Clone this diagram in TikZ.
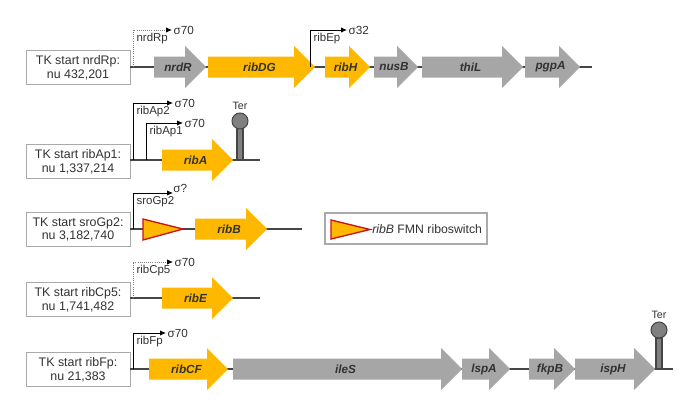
\documentclass[tikz,border=0pt]{standalone}
\usepackage{fontspec}
\setmainfont{Liberation Sans}
\usetikzlibrary{arrows.meta}
\usetikzlibrary{calc}

\definecolor{ribgold}{RGB}{255,184,0}
\definecolor{genegray}{RGB}{166,166,166}
\definecolor{boxgray}{RGB}{170,170,170}
\definecolor{linegray}{RGB}{70,70,70}
\definecolor{txtgray}{RGB}{50,50,50}
\definecolor{switchred}{RGB}{200,20,20}

% gene arrow: x start, x tip, y, fill, name
\newcommand{\gene}[5]{%
  \fill[#4] (#1,{#3-10.5}) -- ({#2-21},{#3-10.5}) -- ({#2-21},{#3-21})
    -- (#2,#3) -- ({#2-21},{#3+21}) -- ({#2-21},{#3+10.5}) -- (#1,{#3+10.5}) -- cycle;
  \node[genename] (gene-#5) at ({(#1+#2)/2-2},#3) {#5};}

\begin{document}
\begin{tikzpicture}[x=0.75pt,y=-0.75pt,
    tkbox/.style={draw=boxgray,fill=white,minimum width=78pt,minimum height=25.5pt,
      inner sep=0pt,align=center,text=txtgray,font=\fontsize{9.3}{10.2}\selectfont},
    genename/.style={text=txtgray,font=\fontsize{8.8}{9}\selectfont\bfseries\itshape},
    backbone/.style={draw=linegray,line width=0.8pt},
    prom/.style={draw=black,line width=0.6pt,-{Latex[length=4.5pt,width=4pt]}},
    promdot/.style={draw=gray,line width=0.6pt,densely dotted,-{Latex[length=4.5pt,width=4pt,color=black]}},
    sigma/.style={right,inner sep=1pt,text=txtgray,font=\fontsize{8.8}{9}\selectfont},
    promname/.style={anchor=north west,inner sep=1pt,text=txtgray,font=\fontsize{8.6}{9}\selectfont},
    stem/.style={fill=gray,draw=linegray,line width=0.8pt},
    hairpin/.style={fill=gray,draw=linegray,line width=0.8pt},
    riboswitch/.style={fill=ribgold,draw=switchred,line width=1pt,line join=miter}]
\useasboundingbox (0,0) rectangle (700,407);

% --- nrdRp
\node[tkbox] (boxR) at (78,67.5) {TK start nrdRp:\\nu 432,201};
\coordinate (endR) at (592,67);
\draw[backbone] (boxR.east |- endR) -- (endR);
\gene{154}{206}{67}{genegray}{nrdR}
\gene{208}{315}{67}{ribgold}{ribDG}
\gene{325}{370}{67}{ribgold}{ribH}
\gene{374}{418}{67}{genegray}{nusB}
\gene{422}{523}{67}{genegray}{thiL}
\gene{525}{580}{67}{genegray}{pgpA}
\draw[promdot] (133,67) |- (172,30) node[sigma] (sigR) {σ70};
\node[promname] (pR) at (135,32) {nrdRp};
\draw[prom] (310,67) |- (347,30) node[sigma] (sigE) {σ32};
\node[promname] (pE) at (312,32) {ribEp};

% --- ribAp1
\node[tkbox] (boxA) at (78,161.5) {TK start ribAp1:\\nu 1,337,214};
\coordinate (endA) at (260,160);
\draw[backbone] (boxA.east |- endA) -- (endA);
\gene{162}{233}{160}{ribgold}{ribA}
\draw[prom] (133,160) |- (173,103) node[sigma] (sigA2) {σ70};
\node[promname] (pA2) at (135,105) {ribAp2};
\draw[prom] (146,160) |- (183,123) node[sigma] (sigA1) {σ70};
\node[promname] (pA1) at (148,125) {ribAp1};
\draw[stem] (237,160) rectangle (243,128);
\draw[hairpin] (240,121) circle (8);
\node[text=txtgray,font=\fontsize{8}{9}\selectfont] (terA) at (240,106) {Ter};

% --- sroGp2
\node[tkbox] (boxB) at (78,229.5) {TK start sroGp2:\\nu 3,182,740};
\coordinate (endB) at (302,229);
\draw[backbone] (boxB.east |- endB) -- (endB);
\draw[riboswitch] (143,219) -- (183,229) -- (143,240) -- cycle;
\gene{195}{267}{229}{ribgold}{ribB}
\draw[prom] (133,229) |- (173,193) node[sigma,above right,inner sep=0pt] (sigB) {σ?};
\node[promname] (pB) at (135,195) {sroGp2};

% legend
\node[draw=boxgray,line width=0.8pt,minimum width=121.5pt,minimum height=23.25pt] (legend) at (406,228.5) {};
\draw[riboswitch] (331,220) -- (370,229.5) -- (331,239) -- cycle;
\node[anchor=west,inner sep=0pt,text=txtgray,font=\fontsize{9.2}{10}\selectfont] (legtext) at (372,229.5) {\textit{ribB} FMN riboswitch};

% --- ribCp5
\node[tkbox] (boxE) at (78,299.5) {TK start ribCp5:\\nu 1,741,482};
\coordinate (endE) at (260,298);
\draw[backbone] (boxE.east |- endE) -- (endE);
\gene{162}{233}{298}{ribgold}{ribE}
\draw[promdot] (133,298) |- (173,262) node[sigma] (sigC5) {σ70};
\node[promname] (pC5) at (135,264) {ribCp5};

% --- ribFp
\node[tkbox] (boxF) at (78,369.5) {TK start ribFp:\\nu 21,383};
\coordinate (endF) at (673,369);
\draw[backbone] (boxF.east |- endF) -- (endF);
\gene{149}{228}{369}{ribgold}{ribCF}
\gene{233}{462}{369}{genegray}{ileS}
\gene{462}{510}{369}{genegray}{lspA}
\gene{529}{575}{369}{genegray}{fkpB}
\gene{575}{655}{369}{genegray}{ispH}
\draw[prom] (133,369) |- (166,333) node[sigma] (sigF) {σ70};
\node[promname] (pF) at (135,335) {ribFp};
\draw[stem] (656,369) rectangle (662,338);
\draw[hairpin] (659,330) circle (8);
\node[text=txtgray,font=\fontsize{8}{9}\selectfont] (terF) at (659,315) {Ter};
\end{tikzpicture}
\end{document}
